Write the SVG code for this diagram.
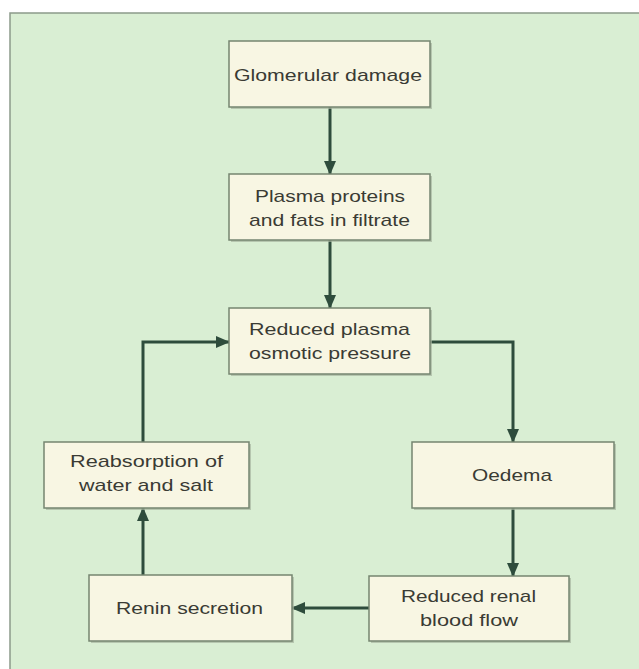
<svg xmlns="http://www.w3.org/2000/svg" width="639" height="669" viewBox="0 0 639 669">
<defs>
<style>
.box{fill:#f8f6e3;stroke:#758570;stroke-width:1.5}
.sh{fill:#a7b5a0;opacity:0.7}
.t{font-family:"Liberation Sans",Arial,sans-serif;font-size:17px;fill:#3a3b34;text-anchor:middle}
.c{fill:none;stroke:#2e4c3c;stroke-width:3;marker-end:url(#ah)}
</style>
<marker id="ah" viewBox="0 0 14 12" markerWidth="14" markerHeight="12" refX="13" refY="6" orient="auto" markerUnits="userSpaceOnUse">
<path d="M0,0 L14,6 L0,12 z" fill="#2e4c3c"/>
</marker>
</defs>
<rect x="0" y="0" width="639" height="669" fill="#ffffff"/>
<rect x="10" y="13" width="640" height="670" fill="#d9eed3" stroke="#8c9b8a" stroke-width="1.5"/>
<g id="connectors">
<path class="c" d="M330,107 V174"/>
<path class="c" d="M330,240 V308"/>
<path class="c" d="M430,342 H513 V442"/>
<path class="c" d="M513,508 V576"/>
<path class="c" d="M369,608 H292"/>
<path class="c" d="M143,575 V508"/>
<path class="c" d="M143,442 V342 H229"/>
</g>
<g id="glomerular-damage">
<rect class="sh" x="231" y="43" width="201" height="66"/>
<rect class="box" x="229" y="41" width="201" height="66"/>
<text class="t" x="328" y="81" textLength="188" lengthAdjust="spacingAndGlyphs">Glomerular damage</text>
</g>
<g id="plasma-proteins">
<rect class="sh" x="231" y="176" width="201" height="66"/>
<rect class="box" x="229" y="174" width="201" height="66"/>
<text class="t" x="330" y="202" textLength="150" lengthAdjust="spacingAndGlyphs">Plasma proteins</text>
<text class="t" x="329.5" y="226" textLength="161" lengthAdjust="spacingAndGlyphs">and fats in filtrate</text>
</g>
<g id="reduced-plasma">
<rect class="sh" x="231" y="310" width="201" height="66"/>
<rect class="box" x="229" y="308" width="201" height="66"/>
<text class="t" x="329.5" y="335" textLength="161" lengthAdjust="spacingAndGlyphs">Reduced plasma</text>
<text class="t" x="330" y="359" textLength="162" lengthAdjust="spacingAndGlyphs">osmotic pressure</text>
</g>
<g id="oedema">
<rect class="sh" x="414" y="444" width="202" height="66"/>
<rect class="box" x="412" y="442" width="202" height="66"/>
<text class="t" x="512" y="481" textLength="80" lengthAdjust="spacingAndGlyphs">Oedema</text>
</g>
<g id="reabsorption">
<rect class="sh" x="46" y="444" width="205" height="66"/>
<rect class="box" x="44" y="442" width="205" height="66"/>
<text class="t" x="146.5" y="467" textLength="153" lengthAdjust="spacingAndGlyphs">Reabsorption of</text>
<text class="t" x="146" y="491" textLength="134" lengthAdjust="spacingAndGlyphs">water and salt</text>
</g>
<g id="renin-secretion">
<rect class="sh" x="91" y="577" width="203" height="66"/>
<rect class="box" x="89" y="575" width="203" height="66"/>
<text class="t" x="189.5" y="614" textLength="147" lengthAdjust="spacingAndGlyphs">Renin secretion</text>
</g>
<g id="reduced-renal">
<rect class="sh" x="371" y="578" width="200" height="65"/>
<rect class="box" x="369" y="576" width="200" height="65"/>
<text class="t" x="468.5" y="602" textLength="135" lengthAdjust="spacingAndGlyphs">Reduced renal</text>
<text class="t" x="469" y="626" textLength="98" lengthAdjust="spacingAndGlyphs">blood flow</text>
</g>
</svg>
